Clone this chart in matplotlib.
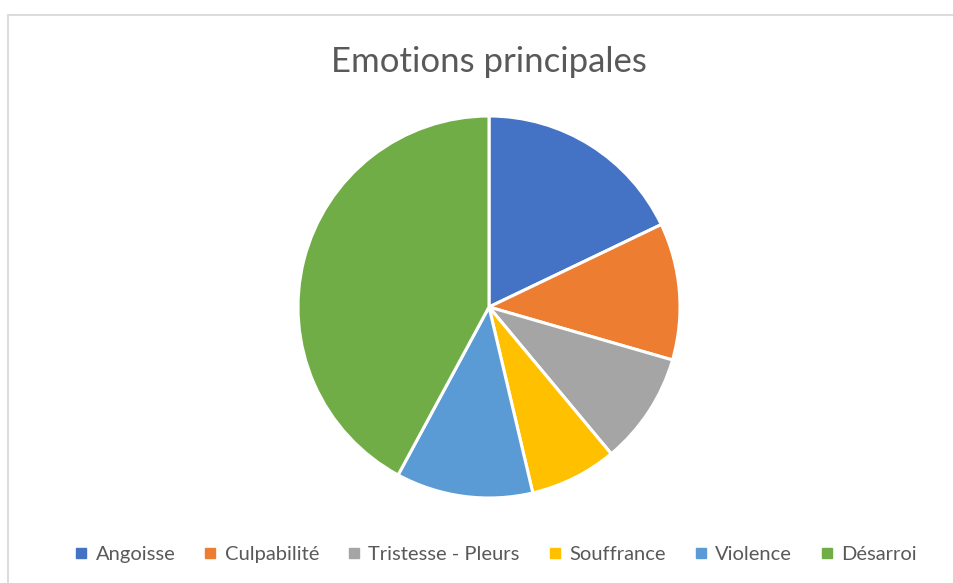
import matplotlib
matplotlib.use("Agg")
import matplotlib.pyplot as plt
from matplotlib.patches import Rectangle
from matplotlib.lines import Line2D

categories = ["Angoisse", "Culpabilité", "Tristesse - Pleurs", "Souffrance", "Violence", "Désarroi"]
values = [17, 11, 9, 7, 11, 40]
colors = ["#4472C4", "#ED7D31", "#A5A5A5", "#FFC000", "#5B9BD5", "#70AD47"]
title = "Emotions principales"

plt.rcParams['font.family'] = ['Lato', 'DejaVu Sans']

W, H = 954, 583
fig = plt.figure(figsize=(W / 100, H / 100), dpi=100)

# chart frame
fig.patches.append(Rectangle((8 / W, -0.01), 1.0, (583 - 15) / H + 0.01, transform=fig.transFigure,
                             fill=False, edgecolor="#D9D9D9", linewidth=1.3))

cx, cy, r = 489, 307, 191
ax = fig.add_axes([(cx - r) / W, (H - cy - r) / H, 2 * r / W, 2 * r / H])
ax.pie(values, colors=colors, startangle=90, counterclock=False, radius=1,
       wedgeprops=dict(edgecolor="white", linewidth=2.2))
ax.set_xlim(-1, 1)
ax.set_ylim(-1, 1)
ax.set_aspect("equal")
ax.axis("off")

fig.text(cx / W, (H - 72) / H, title, ha="center", va="baseline", fontsize=25, color="#595959")

handles = [Line2D([0], [0], marker="s", linestyle="none", markersize=6.5, markerfacecolor=c,
                  markeredgecolor=c) for c in colors]
fig.legend(handles, categories, loc="center", bbox_to_anchor=(496 / W, (H - 554) / H), ncol=6,
           frameon=False, fontsize=14.5, handlelength=0.6, handletextpad=0.4, columnspacing=1.45,
           labelcolor="#595959")

fig.savefig("out.png", dpi=100, facecolor="white")
